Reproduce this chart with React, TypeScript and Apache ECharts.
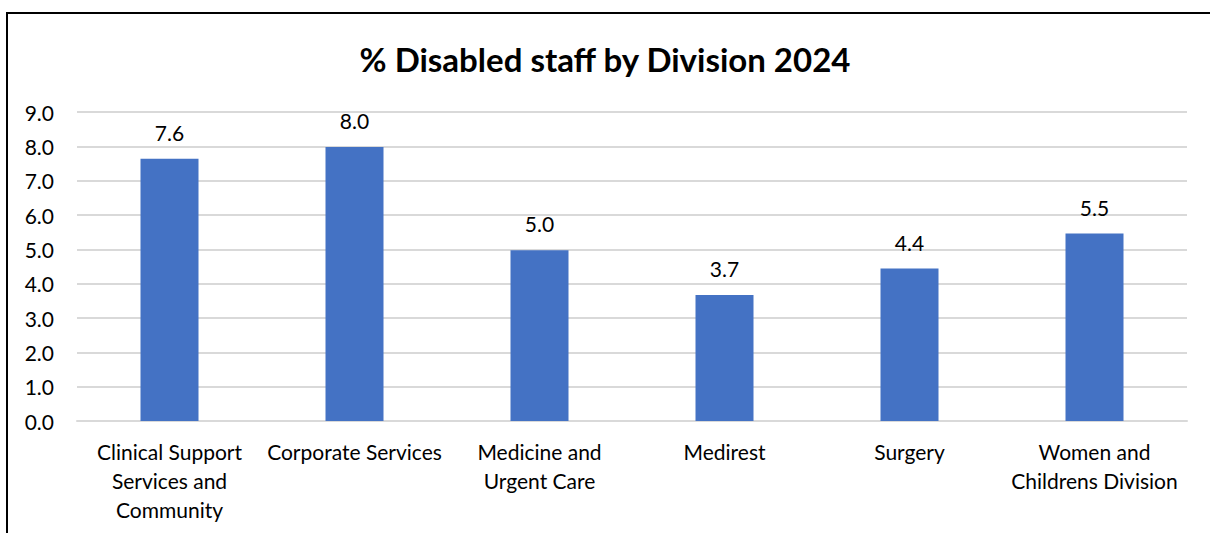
import React, { useEffect, useRef } from "react";
import * as echarts from "echarts";

const categories = [
  "Clinical Support\nServices and\nCommunity",
  "Corporate Services",
  "Medicine and\nUrgent Care",
  "Medirest",
  "Surgery",
  "Women and\nChildrens Division",
];
const values = [7.64, 7.98, 4.97, 3.67, 4.44, 5.46];
const titleText = "% Disabled staff by Division 2024";

const FONT = "Lato, 'Open Sans', sans-serif";

export default function App() {
  const ref = useRef<HTMLDivElement>(null);
  useEffect(() => {
    if (!ref.current) return;
    const chart = echarts.init(ref.current, undefined, { renderer: "svg" });
    chart.setOption({
      animation: false,
      backgroundColor: "#ffffff",
      title: {
        text: titleText,
        left: "center",
        top: 37,
        textStyle: { fontFamily: FONT, fontSize: 33, fontWeight: "bold", color: "#000" },
      },
      graphic: [
        {
          type: "rect",
          shape: { x: 7, y: 13, width: 1300, height: 600 },
          style: { fill: "none", stroke: "#000", lineWidth: 2 },
          silent: true,
        },
      ],
      grid: { left: 77, right: 23, top: 112, bottom: 112, containLabel: false },
      xAxis: {
        type: "category",
        data: categories,
        axisLine: { show: true, lineStyle: { color: "#d9d9d9", width: 2 } },
        axisTick: { show: false },
        axisLabel: {
          fontFamily: FONT,
          fontSize: 21,
          color: "#000",
          lineHeight: 29,
          margin: 16,
          interval: 0,
        },
      },
      yAxis: {
        type: "value",
        min: 0,
        max: 9,
        interval: 1,
        axisLine: { show: false },
        axisTick: { show: false },
        splitLine: { lineStyle: { color: "#d9d9d9", width: 2 } },
        axisLabel: {
          fontFamily: FONT,
          fontSize: 21,
          color: "#000",
          margin: 23,
          formatter: (v: number) => v.toFixed(1),
        },
      },
      series: [
        {
          type: "bar",
          data: values,
          barWidth: 58,
          itemStyle: { color: "#4472c4" },
          label: {
            show: true,
            position: "top",
            distance: 16,
            fontFamily: FONT,
            fontSize: 21,
            color: "#000",
            formatter: (p: any) => Number(p.value).toFixed(1),
          },
        },
      ],
    });
    return () => chart.dispose();
  }, []);
  return (
    <div
      ref={ref}
      style={{ position: "absolute", left: 0, top: 0, width: 1210, height: 533 }}
    />
  );
}
